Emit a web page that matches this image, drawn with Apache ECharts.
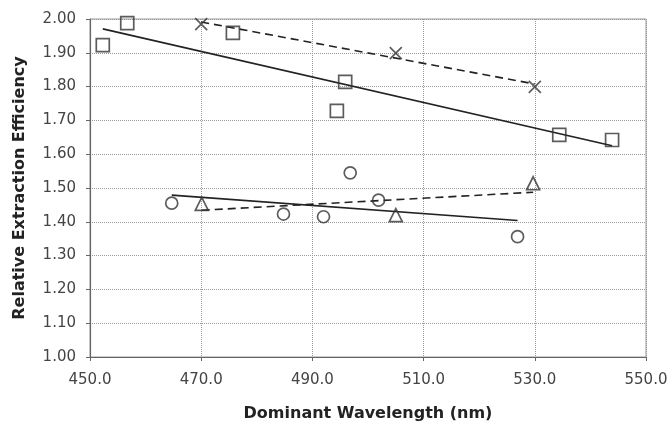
<!DOCTYPE html>
<html>
<head>
<meta charset="utf-8">
<script src="https://cdn.jsdelivr.net/npm/echarts@6/dist/echarts.min.js"></script>
<style>
  html, body { margin: 0; padding: 0; background: #fff; }
  #chart { width: 672px; height: 428px; }
</style>
</head>
<body>
<div id="chart"></div>
<script>
// wavelength (nm) / relative extraction efficiency
var squareX = [452.3, 456.7, 475.7, 494.4, 495.9, 534.4, 543.9];
var squareY = [1.923, 1.988, 1.959, 1.728, 1.814, 1.657, 1.642];
var crossX = [470.0, 505.0, 530.0];
var crossY = [1.985, 1.899, 1.799];
var circleX = [464.7, 484.8, 492.0, 496.8, 501.9, 526.9];
var circleY = [1.455, 1.423, 1.415, 1.545, 1.464, 1.356];
var triX = [470.1, 505.0, 529.7];
var triY = [1.453, 1.420, 1.514];

var xTicks = [450, 470, 490, 510, 530, 550];
var yTicks = [1.0, 1.1, 1.2, 1.3, 1.4, 1.5, 1.6, 1.7, 1.8, 1.9, 2.0];

function pairs(xs, ys) {
  return xs.map(function (x, i) { return [x, ys[i]]; });
}

// least squares fit, drawn from first to last x
function trend(xs, ys) {
  var n = xs.length, mx = 0, my = 0, sxy = 0, sxx = 0;
  for (var i = 0; i < n; i++) { mx += xs[i]; my += ys[i]; }
  mx /= n; my /= n;
  for (var j = 0; j < n; j++) {
    sxy += (xs[j] - mx) * (ys[j] - my);
    sxx += (xs[j] - mx) * (xs[j] - mx);
  }
  var b = sxy / sxx, a = my - b * mx;
  var x0 = Math.min.apply(null, xs), x1 = Math.max.apply(null, xs);
  return [[x0, a + b * x0], [x1, a + b * x1]];
}

var ink = '#333';
var crossIcon = 'path://M0,0L10,10M0,10L10,0';

function marks(name, xs, ys, symbol, size) {
  return {
    name: name,
    type: 'scatter',
    data: pairs(xs, ys),
    symbol: symbol,
    symbolSize: size,
    z: 5,
    itemStyle: { color: 'rgba(0,0,0,0)', borderColor: ink, borderWidth: 1.7 }
  };
}

function fitLine(name, xs, ys, dash) {
  return {
    name: name,
    type: 'line',
    data: trend(xs, ys),
    showSymbol: false,
    symbol: 'none',
    z: 3,
    lineStyle: { color: '#222', width: 1.6, type: dash ? [8, 5] : 'solid' }
  };
}

var chart = echarts.init(document.getElementById('chart'));

chart.setOption({
  animation: false,
  backgroundColor: '#fff',
  grid: {
    left: 90, right: 26, top: 19, bottom: 71,
    show: true, borderColor: '#999', borderWidth: 1
  },
  xAxis: {
    type: 'value',
    min: xTicks[0],
    max: xTicks[xTicks.length - 1],
    interval: 20,
    name: 'Dominant Wavelength (nm)',
    nameLocation: 'middle',
    nameGap: 49,
    nameTextStyle: { fontFamily: 'DejaVu Sans', fontWeight: 'bold', fontSize: 16, color: '#222' },
    axisLine: { onZero: false, lineStyle: { color: '#666', width: 1.2 } },
    axisTick: { show: true, inside: false, length: 4, lineStyle: { color: '#666' } },
    axisLabel: {
      margin: 16,
      fontFamily: 'DejaVu Sans', fontSize: 15, color: '#444',
      formatter: function (v) { return v.toFixed(1); }
    },
    splitLine: { show: true, lineStyle: { color: '#999', type: 'dotted', width: 1 } }
  },
  yAxis: {
    type: 'value',
    min: yTicks[0],
    max: yTicks[yTicks.length - 1],
    interval: 0.1,
    name: 'Relative Extraction Efficiency',
    nameLocation: 'middle',
    nameGap: 62,
    nameTextStyle: { fontFamily: 'DejaVu Sans', fontWeight: 'bold', fontSize: 16, color: '#222' },
    axisLine: { show: true, onZero: false, lineStyle: { color: '#666', width: 1.2 } },
    axisTick: { show: true, inside: false, length: 4, lineStyle: { color: '#666' } },
    axisLabel: {
      margin: 14,
      fontFamily: 'DejaVu Sans', fontSize: 15, color: '#444',
      formatter: function (v) { return v.toFixed(2); }
    },
    splitLine: { show: true, lineStyle: { color: '#999', type: 'dotted', width: 1 } }
  },
  series: [
    fitLine('square fit', squareX, squareY, false),
    fitLine('cross fit', crossX, crossY, true),
    fitLine('circle fit', circleX, circleY, false),
    fitLine('triangle fit', triX, triY, true),
    marks('square', squareX, squareY, 'rect', 13),
    marks('cross', crossX, crossY, crossIcon, 12),
    marks('circle', circleX, circleY, 'circle', 12),
    marks('triangle', triX, triY, 'triangle', 13)
  ]
});
</script>
</body>
</html>
